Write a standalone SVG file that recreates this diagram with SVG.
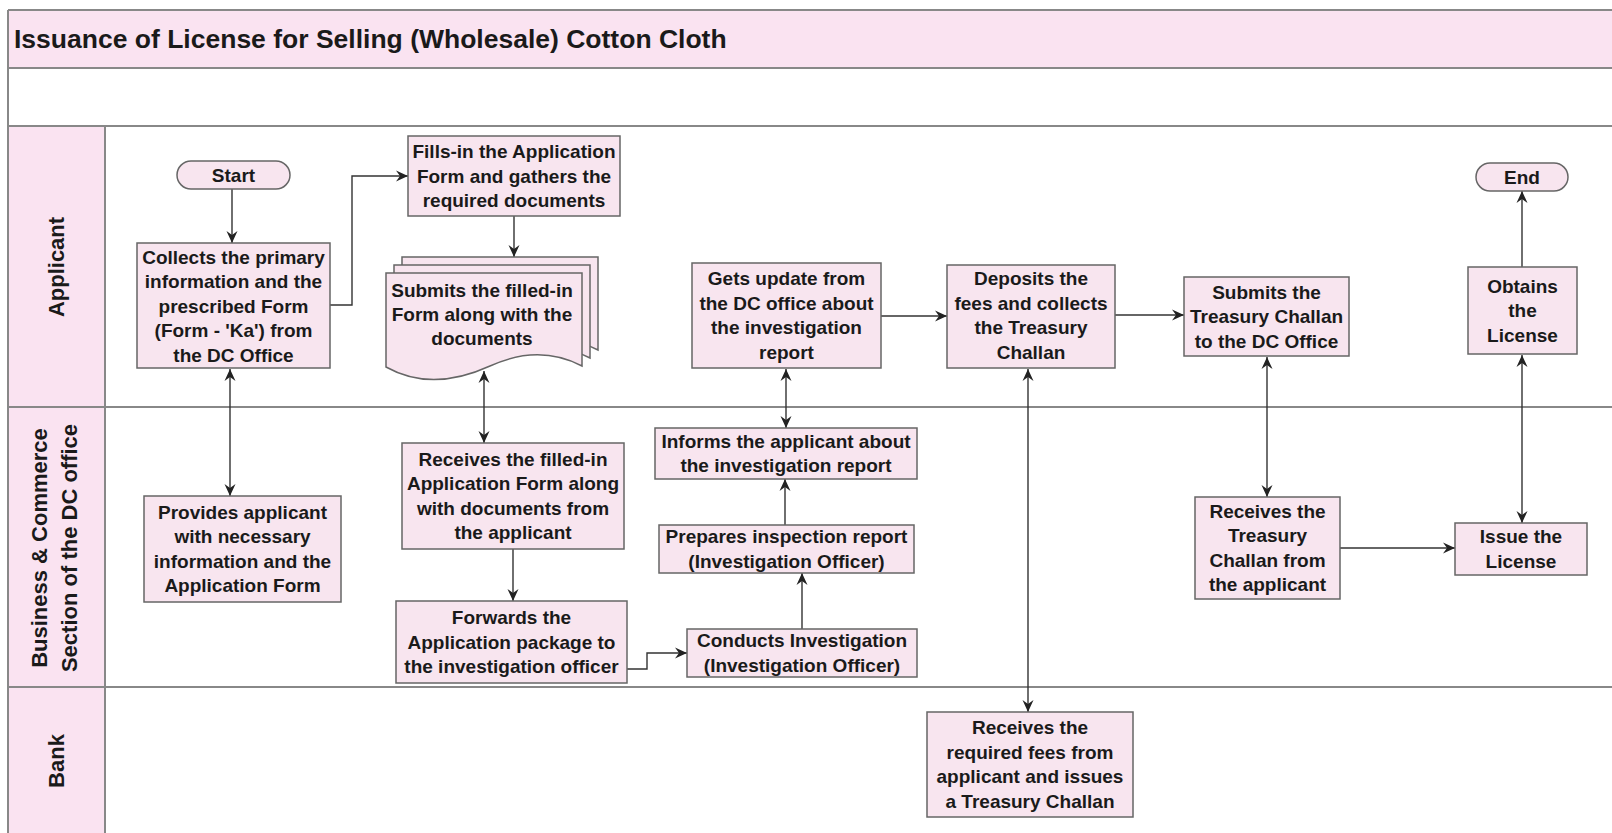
<svg xmlns="http://www.w3.org/2000/svg" width="1612" height="833" viewBox="0 0 1612 833">
<style>
.lane{stroke:#888;stroke-width:2;fill:none}
.band{fill:#fae3f1}
.box{fill:#f8e5ef;stroke:#666;stroke-width:1.5}
.t{font-family:"Liberation Sans",Arial,sans-serif;font-weight:bold;font-size:19px;fill:#1a1a1a;text-anchor:middle}
.lt{font-family:"Liberation Sans",Arial,sans-serif;font-weight:bold;font-size:22px;fill:#1a1a1a;text-anchor:middle}
.title{font-family:"Liberation Sans",Arial,sans-serif;font-weight:bold;font-size:26.5px;fill:#1a1a1a}
.c{stroke:#333;stroke-width:1.4;fill:none;marker-end:url(#ah)}
.cc{stroke:#333;stroke-width:1.4;fill:none;marker-end:url(#ah);marker-start:url(#ah)}
</style>
<defs>
<marker id="ah" markerUnits="userSpaceOnUse" markerWidth="13" markerHeight="13" refX="12" refY="6" orient="auto-start-reverse">
<path d="M0,0.5 L12,6 L0,11.5 L4,6 z" fill="#222"/>
</marker>
</defs>
<rect x="0" y="0" width="1612" height="833" fill="#fff"/>
<g id="frame">
<rect class="band" x="8" y="10" width="1604" height="58"/>
<rect class="band" x="8" y="126" width="97" height="707"/>
<line class="lane" x1="8" y1="10" x2="1612" y2="10"/>
<line class="lane" x1="8" y1="68" x2="1612" y2="68"/>
<line class="lane" x1="8" y1="126" x2="1612" y2="126"/>
<line class="lane" x1="8" y1="407" x2="1612" y2="407"/>
<line class="lane" x1="8" y1="687" x2="1612" y2="687"/>
<line class="lane" x1="8" y1="10" x2="8" y2="833"/>
<line class="lane" x1="105" y1="126" x2="105" y2="833"/>
<text class="title" x="14" y="48">Issuance of License for Selling (Wholesale) Cotton Cloth</text>
</g>
<g id="lanes">
<text class="lt" transform="translate(64,267) rotate(-90)">Applicant</text>
<text class="lt" transform="translate(47,548) rotate(-90)">Business &amp; Commerce</text>
<text class="lt" transform="translate(77,548) rotate(-90)">Section of the DC office</text>
<text class="lt" transform="translate(64,761) rotate(-90)">Bank</text>
</g>
<g id="connectors">
<line class="c" x1="232" y1="189" x2="232" y2="243"/>
<polyline class="c" points="330,305 352,305 352,176 408,176"/>
<line class="c" x1="514" y1="216" x2="514" y2="257"/>
<line class="cc" x1="230" y1="369" x2="230" y2="496"/>
<line class="cc" x1="484" y1="371" x2="484" y2="443"/>
<line class="c" x1="513" y1="549" x2="513" y2="601"/>
<polyline class="c" points="627,669 647,669 647,653 687,653"/>
<line class="c" x1="802" y1="629" x2="802" y2="573"/>
<line class="c" x1="785" y1="525" x2="785" y2="479"/>
<line class="cc" x1="786" y1="369" x2="786" y2="428"/>
<line class="c" x1="881" y1="316" x2="947" y2="316"/>
<line class="cc" x1="1028" y1="369" x2="1028" y2="712"/>
<line class="c" x1="1115" y1="315" x2="1184" y2="315"/>
<line class="cc" x1="1267" y1="357" x2="1267" y2="497"/>
<line class="c" x1="1340" y1="548" x2="1455" y2="548"/>
<line class="cc" x1="1522" y1="355" x2="1522" y2="523"/>
<line class="c" x1="1522" y1="267" x2="1522" y2="191"/>
</g>
<g id="start">
<rect class="box" x="177" y="161" width="113" height="28" rx="14"/>
<text class="t" x="233.5" y="181.5">Start</text>
</g>
<g id="collects">
<rect class="box" x="137" y="243" width="193" height="125"/>
<text class="t"><tspan x="233.5" y="263.5">Collects the primary</tspan><tspan x="233.5" y="288">information and the</tspan><tspan x="233.5" y="312.5">prescribed Form</tspan><tspan x="233.5" y="337">(Form - 'Ka') from</tspan><tspan x="233.5" y="361.5">the DC Office</tspan></text>
</g>
<g id="fills">
<rect class="box" x="408" y="136" width="212" height="80"/>
<text class="t"><tspan x="514" y="158">Fills-in the Application</tspan><tspan x="514" y="182.5">Form and gathers the</tspan><tspan x="514" y="207">required documents</tspan></text>
</g>
<g id="submits-doc">
<path class="box" transform="translate(16,-16)" d="M386,273 H582 V366 C555,352 525,350 490,366 C455,382 420,386 386,367 Z"/>
<path class="box" transform="translate(8,-8)" d="M386,273 H582 V366 C555,352 525,350 490,366 C455,382 420,386 386,367 Z"/>
<path class="box" d="M386,273 H582 V366 C555,352 525,350 490,366 C455,382 420,386 386,367 Z"/>
<text class="t"><tspan x="482" y="296.5">Submits the filled-in</tspan><tspan x="482" y="320.5">Form along with the</tspan><tspan x="482" y="344.5">documents</tspan></text>
</g>
<g id="gets-update">
<rect class="box" x="692" y="263" width="189" height="105"/>
<text class="t"><tspan x="786.5" y="285">Gets update from</tspan><tspan x="786.5" y="309.5">the DC office about</tspan><tspan x="786.5" y="334">the investigation</tspan><tspan x="786.5" y="358.5">report</tspan></text>
</g>
<g id="deposits">
<rect class="box" x="947" y="265" width="168" height="103"/>
<text class="t"><tspan x="1031" y="285">Deposits the</tspan><tspan x="1031" y="309.5">fees and collects</tspan><tspan x="1031" y="334">the Treasury</tspan><tspan x="1031" y="358.5">Challan</tspan></text>
</g>
<g id="submits-challan">
<rect class="box" x="1184" y="277" width="165" height="79"/>
<text class="t"><tspan x="1266.5" y="298.5">Submits the</tspan><tspan x="1266.5" y="323">Treasury Challan</tspan><tspan x="1266.5" y="347.5">to the DC Office</tspan></text>
</g>
<g id="end">
<rect class="box" x="1476" y="163" width="92" height="28" rx="14"/>
<text class="t" x="1522" y="183.5">End</text>
</g>
<g id="obtains">
<rect class="box" x="1468" y="267" width="109" height="87"/>
<text class="t"><tspan x="1522.5" y="292.5">Obtains</tspan><tspan x="1522.5" y="317">the</tspan><tspan x="1522.5" y="341.5">License</tspan></text>
</g>
<g id="provides">
<rect class="box" x="144" y="496" width="197" height="106"/>
<text class="t"><tspan x="242.5" y="518.5">Provides applicant</tspan><tspan x="242.5" y="543">with necessary</tspan><tspan x="242.5" y="567.5">information and the</tspan><tspan x="242.5" y="592">Application Form</tspan></text>
</g>
<g id="receives-form">
<rect class="box" x="402" y="443" width="222" height="106"/>
<text class="t"><tspan x="513" y="465.5">Receives the filled-in</tspan><tspan x="513" y="490">Application Form along</tspan><tspan x="513" y="514.5">with documents from</tspan><tspan x="513" y="539">the applicant</tspan></text>
</g>
<g id="forwards">
<rect class="box" x="396" y="601" width="231" height="82"/>
<text class="t"><tspan x="511.5" y="624">Forwards the</tspan><tspan x="511.5" y="648.5">Application package to</tspan><tspan x="511.5" y="673">the investigation officer</tspan></text>
</g>
<g id="informs">
<rect class="box" x="655" y="428" width="262" height="51"/>
<text class="t"><tspan x="786" y="447.5">Informs the applicant about</tspan><tspan x="786" y="472">the investigation report</tspan></text>
</g>
<g id="prepares">
<rect class="box" x="659" y="525" width="255" height="48"/>
<text class="t"><tspan x="786.5" y="543">Prepares inspection report</tspan><tspan x="786.5" y="567.5">(Investigation Officer)</tspan></text>
</g>
<g id="conducts">
<rect class="box" x="687" y="629" width="230" height="48"/>
<text class="t"><tspan x="802" y="647">Conducts Investigation</tspan><tspan x="802" y="671.5">(Investigation Officer)</tspan></text>
</g>
<g id="receives-challan">
<rect class="box" x="1195" y="497" width="145" height="102"/>
<text class="t"><tspan x="1267.5" y="517.5">Receives the</tspan><tspan x="1267.5" y="542">Treasury</tspan><tspan x="1267.5" y="566.5">Challan from</tspan><tspan x="1267.5" y="591">the applicant</tspan></text>
</g>
<g id="issue">
<rect class="box" x="1455" y="523" width="132" height="52"/>
<text class="t"><tspan x="1521" y="543">Issue the</tspan><tspan x="1521" y="567.5">License</tspan></text>
</g>
<g id="bank-receives">
<rect class="box" x="927" y="712" width="206" height="105"/>
<text class="t"><tspan x="1030" y="734">Receives the</tspan><tspan x="1030" y="758.5">required fees from</tspan><tspan x="1030" y="783">applicant and issues</tspan><tspan x="1030" y="807.5">a Treasury Challan</tspan></text>
</g>
</svg>
